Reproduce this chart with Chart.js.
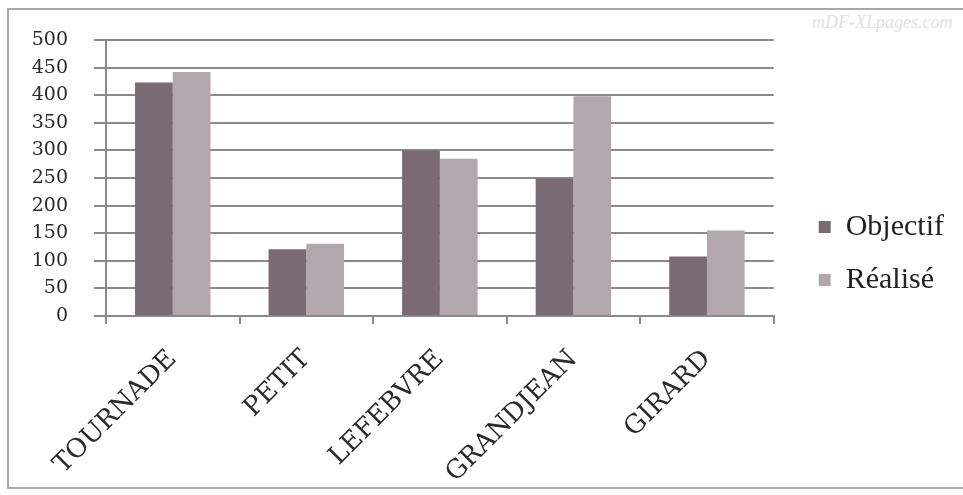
<!DOCTYPE html>
<html lang="fr">
<head>
<meta charset="UTF-8">
<title>Objectif / Réalisé</title>
<script src="https://cdn.jsdelivr.net/npm/chart.js@4.4.1/dist/chart.umd.min.js"></script>
<style>
    html, body { margin: 0; padding: 0; background: #fff; }
    .wrap { position: relative; width: 963px; height: 495px; overflow: hidden; }
    .frame { position: absolute; left: 7px; top: 8px; width: 960px; height: 481px; border: 2px solid #a8a8a8; box-sizing: border-box; }
    .mark { position: absolute; left: 812px; top: 12px; white-space: nowrap; font: italic 18px "Liberation Serif", serif; color: #e0e0e0; }
    canvas { position: absolute; left: 0; top: 0; }
</style>
</head>
<body>
<div class="wrap">
    <div class="frame"></div>
    <div class="mark">mDF-XLpages.com</div>
    <canvas id="myChart" width="963" height="495"></canvas>
</div>
<script>
    const labels = ['TOURNADE', 'PETIT', 'LEFEBVRE', 'GRANDJEAN', 'GIRARD'];
    const objectif = [423, 121, 300, 249, 108];
    const realise = [442, 131, 285, 398, 155];
    const yTicks = [0, 50, 100, 150, 200, 250, 300, 350, 400, 450, 500];

    // move the legend away from the plot, like in the Excel chart
    const legendShift = {
        id: 'legendShift',
        afterLayout(chart) {
            const lg = chart.legend;
            lg.left += 22; lg.right += 22;
            lg.top -= 9; lg.bottom -= 9;
        }
    };

    const ctx = document.getElementById('myChart').getContext('2d');
    const myChart = new Chart(ctx, {
        type: 'bar',
        data: {
            labels: labels,
            datasets: [{
                label: 'Objectif',
                data: objectif,
                backgroundColor: '#7a6a74',
                categoryPercentage: 0.565,
                barPercentage: 1
            }, {
                label: 'Réalisé',
                data: realise,
                backgroundColor: '#b2a7ad',
                categoryPercentage: 0.565,
                barPercentage: 1
            }]
        },
        plugins: [legendShift],
        options: {
            responsive: false,
            animation: false,
            layout: { padding: { left: 20, top: 40, right: 31, bottom: 10 } },
            plugins: {
                tooltip: { enabled: false },
                legend: {
                    position: 'right',
                    labels: {
                        boxWidth: 12,
                        boxHeight: 12,
                        padding: 23,
                        color: '#222',
                        font: { family: 'Liberation Serif', size: 30 }
                    }
                }
            },
            scales: {
                x: {
                    grid: { drawOnChartArea: false, color: '#8a8a8a', lineWidth: 2, tickLength: 8 },
                    border: { color: '#8a8a8a', width: 2 },
                    ticks: {
                        maxRotation: 45, minRotation: 45, padding: 20,
                        color: '#2a2a2a',
                        font: { family: 'DejaVu Serif', size: 26 }
                    },
                    afterFit: function (axis) { axis.height = 169; }
                },
                y: {
                    min: 0, max: 500,
                    afterBuildTicks: function (axis) { axis.ticks = yTicks.map(v => ({ value: v })); },
                    grid: { color: '#8a8a8a', lineWidth: 2, tickLength: 12 },
                    border: { color: '#8a8a8a', width: 2 },
                    ticks: {
                        padding: 26,
                        color: '#2a2a2a',
                        font: { family: 'DejaVu Serif', size: 19 }
                    },
                    afterFit: function (axis) { axis.width = 86; }
                }
            }
        }
    });
</script>
</body>
</html>
